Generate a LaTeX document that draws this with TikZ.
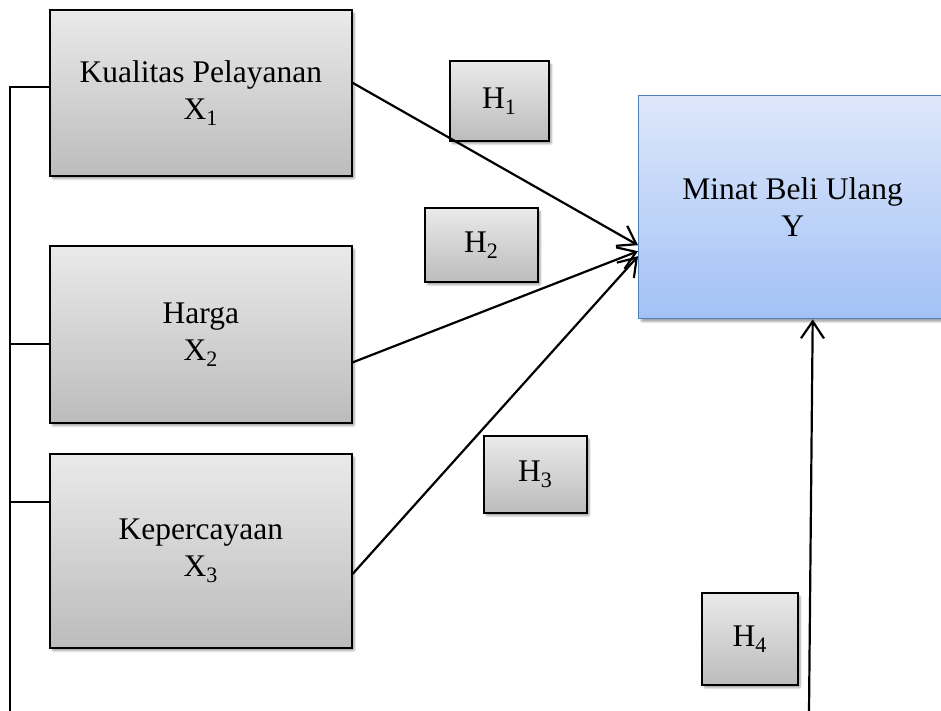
\documentclass[tikz,border=0pt]{standalone}
\usepackage{fontspec}
\setmainfont{Liberation Serif}
\usetikzlibrary{arrows.meta,shadows.blur}
\definecolor{boxtop}{RGB}{234,234,234}
\definecolor{boxbot}{RGB}{188,188,188}
\definecolor{bluetop}{RGB}{222,232,251}
\definecolor{bluebot}{RGB}{162,193,246}
\definecolor{blueedge}{RGB}{79,129,189}
\begin{document}
\begin{tikzpicture}[x=1pt,y=-1pt,
  softshadow/.style={blur shadow={shadow xshift=2.5pt,shadow yshift=-3pt,
      shadow blur steps=6,shadow blur extra rounding=1pt,shadow opacity=35}},
  varbox/.style={rectangle,draw=black,line width=1.7pt,top color=boxtop,
      bottom color=boxbot,softshadow,align=center,inner sep=0pt,
      anchor=north west,font=\fontsize{31.5}{37}\selectfont},
  hypbox/.style={varbox},
  depbox/.style={varbox,draw=blueedge,line width=1.4pt,top color=bluetop,
      bottom color=bluebot},
  link/.style={line width=2.2pt,draw=black},
  effect/.style={link,-{Straight Barb[length=17pt,width=23pt,line width=2.2pt]}}
]
\useasboundingbox (0,0) rectangle (941,710);

% independent variables
\node[varbox,minimum width=302pt,minimum height=166pt] (x1) at (49,9)
  {Kualitas Pelayanan\\X\textsubscript{1}};
\node[varbox,minimum width=302pt,minimum height=177pt] (x2) at (49,245)
  {Harga\\X\textsubscript{2}};
\node[varbox,minimum width=302pt,minimum height=194pt] (x3) at (49,453)
  {Kepercayaan\\X\textsubscript{3}};

% dependent variable
\node[depbox,minimum width=308pt,minimum height=223pt] (ym) at (638,95)
  {Minat Beli Ulang\\Y};

% hypothesis labels
\node[hypbox,minimum width=99pt,minimum height=80pt] (h1) at (449,60) {H\textsubscript{1}};
\node[hypbox,minimum width=113pt,minimum height=74pt] (h2) at (424,207) {H\textsubscript{2}};
\node[hypbox,minimum width=103pt,minimum height=77pt] (h3) at (483,435) {H\textsubscript{3}};
\node[hypbox,minimum width=96pt,minimum height=92pt] (h4) at (701,592) {H\textsubscript{4}};

% partial effects
\draw[effect] ([yshift=10pt]x1.east) -- ([yshift=-38pt]ym.west);
\draw[effect] ([yshift=-28pt]x2.east) -- ([yshift=-44pt]ym.west);
\draw[effect] ([yshift=-23pt]x3.east) -- ([yshift=-49pt]ym.west);

% simultaneous effect
\coordinate (railbot) at (10,712);
\coordinate (h4base) at (809,712);
\draw[link] (railbot) |- ([yshift=6pt]x1.west);
\draw[link] ([yshift=-9.5pt]x2.west) -- ([yshift=-9.5pt]x2.west -| railbot);
\draw[link] ([yshift=49pt]x3.west) -- ([yshift=49pt]x3.west -| railbot);
\draw[effect] (h4base) -- ([xshift=20pt]ym.south);
\end{tikzpicture}
\end{document}
